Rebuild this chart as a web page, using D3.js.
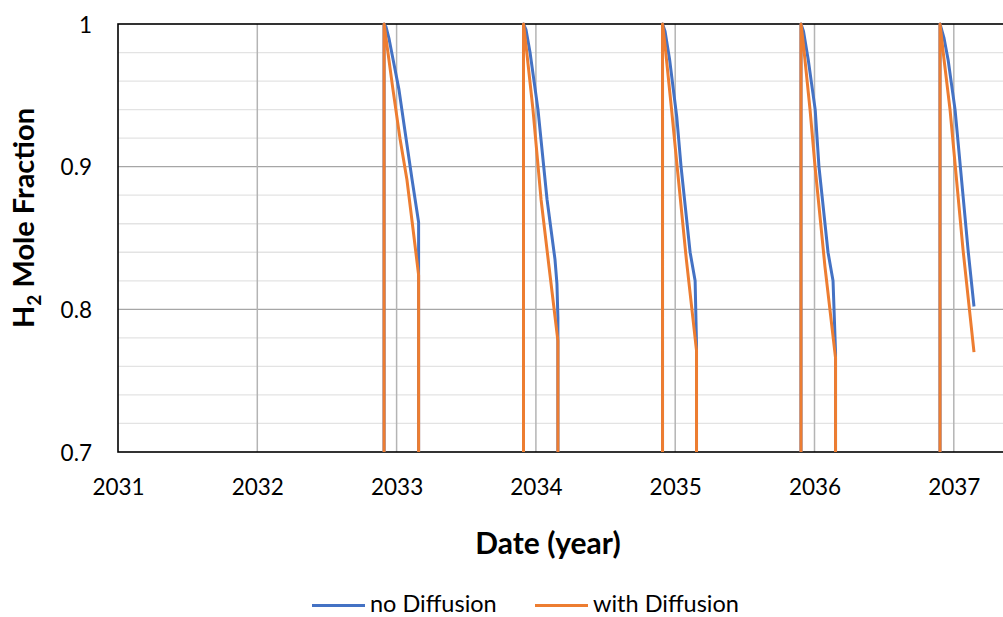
<!DOCTYPE html>
<html>
<head>
<meta charset="utf-8">
<script src="https://cdn.jsdelivr.net/npm/d3@7"></script>
<style>
  body { margin: 0; background: #fff; }
  svg { display: block; }
  text { font-family: Lato, "Open Sans", sans-serif; fill: #000; }
</style>
</head>
<body>
<svg id="chart" width="1003" height="617"></svg>
<script>
// Axis ticks
const yearTicks = [2031, 2032, 2033, 2034, 2035, 2036, 2037];
const valueTicks = [0.7, 0.8, 0.9, 1];
const minorValueTicks = [0.72, 0.74, 0.76, 0.78, 0.82, 0.84, 0.86, 0.88, 0.92, 0.94, 0.96, 0.98];

const seriesNames = ["no Diffusion", "with Diffusion"];
const seriesColors = ["#4472C4", "#ED7D31"];

// H2 mole fraction over time, [decimal year, fraction]; 0 between storage cycles
const noDiffusion = [
  [2031.000, 0], [2032.910, 0],
  [2032.910, 1.000], [2032.924, 0.998], [2032.945, 0.990], [2032.981, 0.972], [2033.017, 0.954],
  [2033.060, 0.925], [2033.111, 0.891], [2033.158, 0.861], [2033.158, 0],
  [2033.911, 0],
  [2033.911, 1.000], [2033.929, 0.996], [2033.958, 0.980], [2034.015, 0.940], [2034.080, 0.877],
  [2034.137, 0.835], [2034.151, 0.818], [2034.158, 0.794], [2034.158, 0],
  [2034.909, 0],
  [2034.909, 1.000], [2034.927, 0.995], [2034.960, 0.975], [2035.011, 0.935], [2035.042, 0.900],
  [2035.107, 0.840], [2035.143, 0.820], [2035.153, 0.775], [2035.153, 0],
  [2035.903, 0],
  [2035.903, 1.000], [2035.921, 0.995], [2035.955, 0.975], [2036.005, 0.940], [2036.032, 0.900],
  [2036.097, 0.840], [2036.133, 0.820], [2036.151, 0.770], [2036.151, 0],
  [2036.901, 0],
  [2036.901, 1.000], [2036.930, 0.990], [2036.959, 0.975], [2037.009, 0.940], [2037.102, 0.842],
  [2037.145, 0.802]
];

const withDiffusion = [
  [2031.000, 0], [2032.910, 0],
  [2032.910, 1.000], [2032.924, 0.990], [2032.974, 0.954], [2033.024, 0.920], [2033.074, 0.891],
  [2033.117, 0.857], [2033.158, 0.824], [2033.158, 0],
  [2033.911, 0],
  [2033.911, 1.000], [2033.929, 0.985], [2033.979, 0.940], [2034.037, 0.877], [2034.094, 0.830],
  [2034.158, 0.778], [2034.158, 0],
  [2034.909, 0],
  [2034.909, 1.000], [2034.927, 0.985], [2034.974, 0.940], [2035.014, 0.900], [2035.080, 0.835],
  [2035.153, 0.771], [2035.153, 0],
  [2035.903, 0],
  [2035.903, 1.000], [2035.921, 0.985], [2035.968, 0.940], [2036.004, 0.900], [2036.075, 0.830],
  [2036.151, 0.766], [2036.151, 0],
  [2036.901, 0],
  [2036.901, 1.000], [2036.930, 0.975], [2036.973, 0.940], [2037.066, 0.842], [2037.145, 0.770]
];

const svg = d3.select("#chart");
const plot = { left: 118, top: 24, right: 1012, bottom: 452 };

const x = d3.scaleLinear().domain([2031, 2031 + (plot.right - plot.left) / 139.3]).range([plot.left, plot.right]);
const y = d3.scaleLinear().domain([0.7, 1]).range([plot.bottom, plot.top]);

// minor horizontal grid
svg.append("g").selectAll("line").data(minorValueTicks).join("line")
  .attr("x1", plot.left).attr("x2", plot.right)
  .attr("y1", d => y(d)).attr("y2", d => y(d))
  .attr("stroke", "#e3e3e3").attr("stroke-width", 1.3);

// major horizontal grid
svg.append("g").selectAll("line").data(valueTicks.filter(v => v > 0.7 && v < 1)).join("line")
  .attr("x1", plot.left).attr("x2", plot.right)
  .attr("y1", d => y(d)).attr("y2", d => y(d))
  .attr("stroke", "#a6a6a6").attr("stroke-width", 1.3);

// vertical year grid
svg.append("g").selectAll("line").data(yearTicks.filter(v => v > 2031)).join("line")
  .attr("x1", d => x(d)).attr("x2", d => x(d))
  .attr("y1", plot.top).attr("y2", plot.bottom)
  .attr("stroke", "#b4b4b4").attr("stroke-width", 1.5);

// axes
const yAxis = d3.axisLeft(y).tickValues(valueTicks).tickSize(0).tickPadding(26)
  .tickFormat(d => d === 1 ? "1" : d3.format(".1f")(d));
svg.append("g").attr("transform", `translate(${plot.left},0)`).call(yAxis)
  .call(g => g.select(".domain").remove())
  .selectAll("text").style("font-size", "22.5px").attr("dy", "0.36em");

const xAxis = d3.axisBottom(x).tickValues(yearTicks).tickSize(0).tickPadding(0).tickFormat(d3.format("d"));
svg.append("g").attr("transform", `translate(0,${plot.bottom})`).call(xAxis)
  .call(g => g.select(".domain").remove())
  .selectAll("text").style("font-size", "22.5px").attr("y", 43).attr("dy", 0);

// plot frame
svg.append("rect")
  .attr("x", plot.left).attr("y", plot.top)
  .attr("width", plot.right - plot.left).attr("height", plot.bottom - plot.top)
  .attr("fill", "none").attr("stroke", "#000").attr("stroke-width", 1.6);

// series lines, clipped to the plot area
svg.append("clipPath").attr("id", "plot-clip").append("rect")
  .attr("x", plot.left).attr("y", plot.top - 2)
  .attr("width", plot.right - plot.left).attr("height", plot.bottom - plot.top + 2);

const line = d3.line().x(d => x(d[0])).y(d => y(d[1]));
const lines = svg.append("g").attr("clip-path", "url(#plot-clip)");
[noDiffusion, withDiffusion].forEach((data, i) => {
  lines.append("path").datum(data)
    .attr("d", line)
    .attr("fill", "none")
    .attr("stroke", seriesColors[i])
    .attr("stroke-width", 3)
    .attr("stroke-linejoin", "round");
});

// axis titles
svg.append("text")
  .attr("x", 548).attr("y", 554)
  .attr("text-anchor", "middle")
  .style("font-size", "30px").style("font-weight", "bold")
  .text("Date (year)");

const yTitle = svg.append("text")
  .attr("transform", "translate(34,218) rotate(-90)")
  .attr("text-anchor", "middle")
  .style("font-size", "29px").style("font-weight", "bold");
yTitle.append("tspan").text("H");
yTitle.append("tspan").attr("dy", 7).style("font-size", "19px").text("2");
yTitle.append("tspan").attr("dy", -7).text(" Mole Fraction");

// legend
const legendItems = [
  { name: seriesNames[0], color: seriesColors[0], x: 312 },
  { name: seriesNames[1], color: seriesColors[1], x: 535 }
];
const lg = svg.append("g").selectAll("g").data(legendItems).join("g")
  .attr("transform", d => `translate(${d.x},605.5)`);
lg.append("line").attr("x1", 0).attr("x2", 53).attr("y1", 0).attr("y2", 0)
  .attr("stroke", d => d.color).attr("stroke-width", 3);
lg.append("text").attr("x", 58).attr("y", 6.5)
  .style("font-size", "23.5px").text(d => d.name);
</script>
</body>
</html>
